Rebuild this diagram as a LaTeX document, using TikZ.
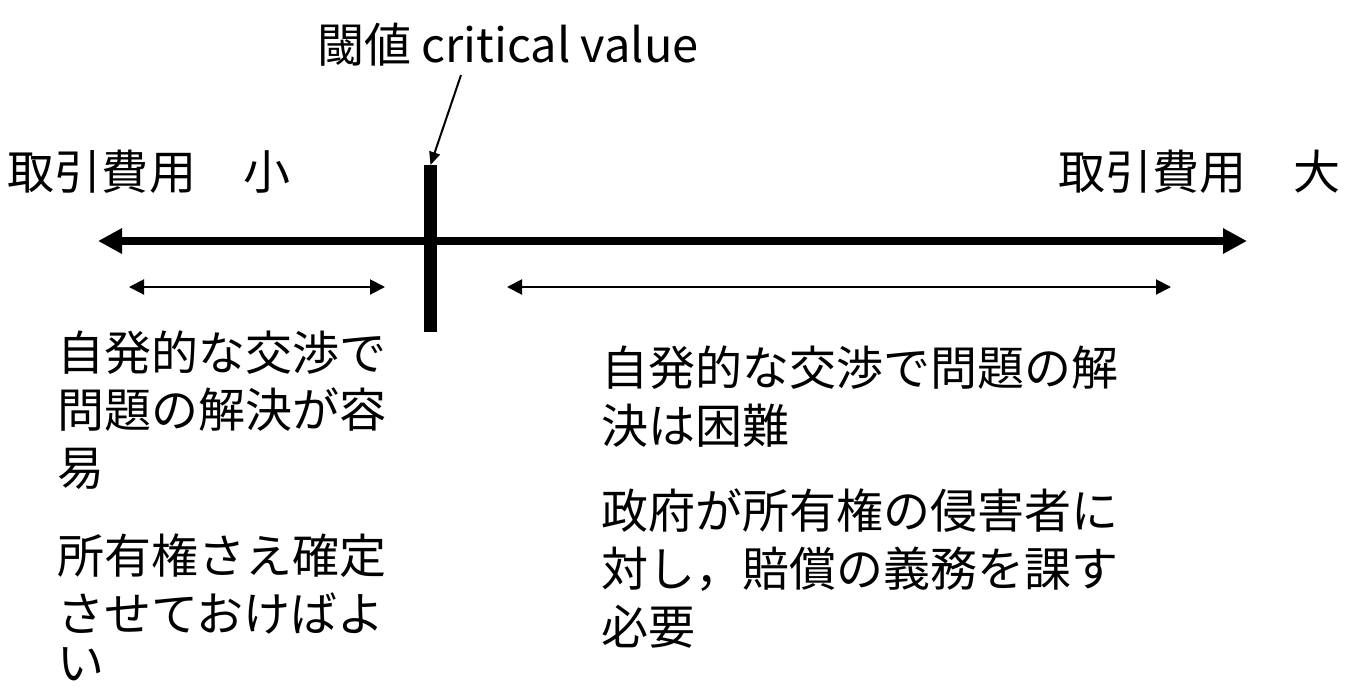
\documentclass[tikz,border=0pt]{standalone}
\usepackage{fontspec}
\setmainfont{Noto Sans CJK JP}
\usetikzlibrary{arrows.meta}
\tikzset{
  txt/.style={inner sep=0pt, outer sep=0pt, font=\fontsize{47pt}{58pt}\selectfont},
  lline/.style={txt, anchor=base west},
  rline/.style={txt, anchor=base east},
  mainarrow/.style={line width=8pt, {Triangle[length=24pt,width=24pt]}-{Triangle[length=24pt,width=24pt]}},
  rangearrow/.style={line width=2pt, {Triangle[length=15pt,width=15pt]}-{Triangle[length=15pt,width=15pt]}},
  pointer/.style={line width=2pt, -{Triangle[length=13pt,width=11pt]}},
}
\begin{document}
\begin{tikzpicture}[x=1pt,y=-1pt]
\useasboundingbox (0,0) rectangle (1346,686);
% title
\node[txt, anchor=base] (title) at (508,62) {閾値\hspace{10pt}critical value};
\coordinate (ptstart) at (461,75);
% threshold bar
\node[fill=black, inner sep=0pt, minimum width=13pt, minimum height=167pt, anchor=north] (bar) at (430.5,165) {};
\draw[pointer] (ptstart) -- (bar.north);
% main axis
\coordinate (axL) at (98,241);
\coordinate (axR) at (1247,241);
\draw[mainarrow] (axL) -- (axR);
% range arrows
\coordinate (r1a) at (129,287);
\coordinate (r1b) at (385,287);
\coordinate (r2a) at (507,287);
\coordinate (r2b) at (1171,287);
\draw[rangearrow] (r1a) -- (r1b);
\draw[rangearrow] (r2a) -- (r2b);
% headers
\node[lline] (small) at (8,189.5) {取引費用　小};
\node[rline] (large) at (1340,189.5) {取引費用　大};
% left text
\node[lline] (l1) at (57,370) {自発的な交渉で};
\node[lline] (l2) at (57,427.5) {問題の解決が容};
\node[lline] (l3) at (57,485) {易};
\node[lline] (l4) at (57,573.5) {所有権さえ確定};
\node[lline] (l5) at (57,631) {させておけばよ};
\node[lline] (l6) at (57,680) {い};
% right text
\node[lline] (m1) at (601,385) {自発的な交渉で問題の解};
\node[lline] (m2) at (601,443.5) {決は困難};
\node[lline] (m3) at (601,528.5) {政府が所有権の侵害者に};
\node[lline] (m4) at (601,586) {対し，賠償の義務を課す};
\node[lline] (m5) at (601,644.5) {必要};
\end{tikzpicture}
\end{document}
